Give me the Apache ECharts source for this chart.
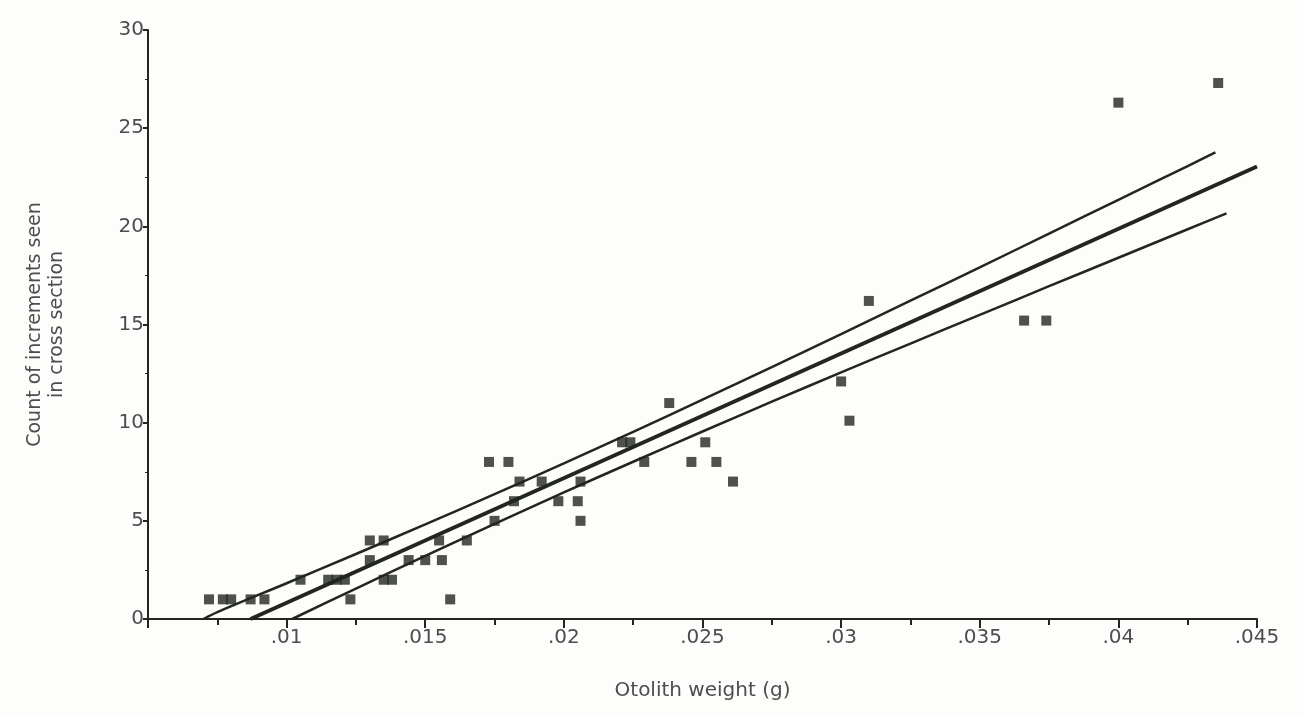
<!DOCTYPE html>
<html>
<head>
<meta charset="utf-8">
<script src="https://cdn.jsdelivr.net/npm/echarts@6/dist/echarts.min.js"></script>
<style>
  html, body { margin: 0; padding: 0; background: #fdfdfb; }
  #chart { width: 1303px; height: 715px; }
</style>
</head>
<body>
<div id="chart"></div>
<script>
// otolith weight (g) / increment count
var weights = [
  0.0072, 0.0077, 0.0080, 0.0087, 0.0092, 0.0123, 0.0159,
  0.0105, 0.0115, 0.0118, 0.0121, 0.0135, 0.0138,
  0.0130, 0.0144, 0.0150, 0.0156,
  0.0130, 0.0135, 0.0155, 0.0165,
  0.0175, 0.0206,
  0.0182, 0.0198, 0.0205,
  0.0184, 0.0192, 0.0206, 0.0261,
  0.0173, 0.0180, 0.0229, 0.0246, 0.0255,
  0.0221, 0.0224, 0.0251,
  0.0238, 0.0300, 0.0303, 0.0310,
  0.0366, 0.0374, 0.0400, 0.0436
];
var counts = [
  1, 1, 1, 1, 1, 1, 1,
  2, 2, 2, 2, 2, 2,
  3, 3, 3, 3,
  4, 4, 4, 4,
  5, 5,
  6, 6, 6,
  7, 7, 7, 7,
  8, 8, 8, 8, 8,
  9, 9, 9,
  11, 12.1, 10.1, 16.2,
  15.2, 15.2, 26.3, 27.3
];

// fitted line and its confidence band
var fitX = [0.0087, 0.045];
var fitY = [0, 23.05];
var upperX = [0.0070, 0.0075, 0.0100, 0.0125, 0.0150, 0.0175, 0.0200, 0.0225, 0.0250, 0.0275, 0.0300, 0.0325, 0.0350, 0.0375, 0.0400, 0.0425, 0.0435];
var upperY = [0, 0.35, 1.82, 3.31, 4.82, 6.36, 7.93, 9.53, 11.17, 12.83, 14.51, 16.21, 17.91, 19.63, 21.35, 23.07, 23.77];
var lowerX = [0.0102, 0.0125, 0.0150, 0.0175, 0.0200, 0.0225, 0.0250, 0.0275, 0.0300, 0.0325, 0.0350, 0.0375, 0.0400, 0.0425, 0.0439];
var lowerY = [0, 1.55, 3.21, 4.84, 6.45, 8.01, 9.55, 11.07, 12.56, 14.03, 15.49, 16.95, 18.40, 19.85, 20.66];

function pairs(xs, ys) {
  return xs.map(function (x, i) { return [x, ys[i]]; });
}

var ink = '#222622';
var textColor = '#4d4d4d';
var font = 'DejaVu Sans';

var myChart = echarts.init(document.getElementById('chart'));

var option = {
  backgroundColor: '#fdfdfb',
  animation: false,
  grid: {
    left: 148,
    right: 46,
    top: 30,
    bottom: 96
  },
  xAxis: {
    type: 'value',
    min: 0.005,
    max: 0.045,
    interval: 0.005,
    name: 'Otolith weight (g)',
    nameLocation: 'middle',
    nameGap: 62,
    nameTextStyle: { color: textColor, fontSize: 20, fontFamily: font },
    axisLine: { onZero: false, lineStyle: { color: ink, width: 2 } },
    axisTick: { inside: false, length: 9, lineStyle: { color: ink, width: 2 } },
    minorTick: { show: true, splitNumber: 2, length: 6, lineStyle: { color: ink, width: 2 } },
    splitLine: { show: false },
    axisLabel: {
      color: textColor,
      fontSize: 20,
      fontFamily: font,
      margin: 9,
      formatter: function (v) {
        if (Math.abs(v - 0.005) < 1e-9) return '';
        return String(+v.toFixed(3)).replace(/^0/, '');
      }
    }
  },
  yAxis: {
    type: 'value',
    min: 0,
    max: 30,
    interval: 5,
    name: 'Count of increments seen\nin cross section',
    nameLocation: 'middle',
    nameGap: 80,
    nameTextStyle: { color: textColor, fontSize: 19, fontFamily: font, lineHeight: 22 },
    axisLine: { lineStyle: { color: ink, width: 2 } },
    axisTick: { length: 5, lineStyle: { color: ink, width: 2 } },
    minorTick: { show: true, splitNumber: 2, length: 3, lineStyle: { color: ink, width: 1 } },
    splitLine: { show: false },
    axisLabel: { color: textColor, fontSize: 20, fontFamily: font, margin: 4 }
  },
  series: [
    {
      type: 'line',
      data: pairs(fitX, fitY),
      symbol: 'none',
      lineStyle: { color: ink, width: 4 },
      z: 3
    },
    {
      type: 'line',
      data: pairs(upperX, upperY),
      symbol: 'none',
      smooth: 0.3,
      lineStyle: { color: ink, width: 2.5 },
      z: 3
    },
    {
      type: 'line',
      data: pairs(lowerX, lowerY),
      symbol: 'none',
      smooth: 0.3,
      lineStyle: { color: ink, width: 2.5 },
      z: 3
    },
    {
      type: 'scatter',
      data: pairs(weights, counts),
      symbol: 'rect',
      symbolSize: 10,
      itemStyle: { color: ink },
      z: 4
    }
  ]
};

myChart.setOption(option);
</script>
</body>
</html>
